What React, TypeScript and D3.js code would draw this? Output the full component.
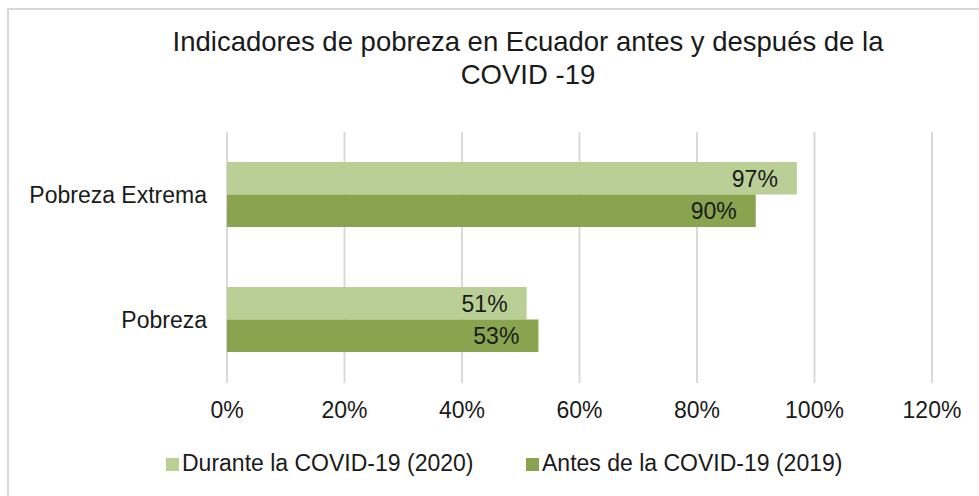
import React from "react";
import * as d3 from "d3";

const categories = ["Pobreza Extrema", "Pobreza"];
const seriesNames = ["Durante la COVID-19 (2020)", "Antes de la COVID-19 (2019)"];
const durante2020 = [97, 51];
const antes2019 = [90, 53];
const xTicks = [0, 20, 40, 60, 80, 100, 120];
const colors = ["#B9CF96", "#88A44E"];

const W = 979;
const H = 496;
const FONT = "'Liberation Sans', Arial, sans-serif";

export default function App() {
  const x = d3.scaleLinear().domain([0, 120]).range([227, 932]);
  const y = d3.scaleBand<string>().domain(categories).range([132, 382]).paddingInner(0.48).paddingOuter(0.24);
  const inner = d3.scaleBand<number>().domain([0, 1]).range([0, y.bandwidth()]).padding(0);
  const series = [durante2020, antes2019];

  return (
    <svg width={W} height={H} style={{ position: "absolute", left: 0, top: 0, background: "#fff" }} fontFamily={FONT}>
      <rect x={8} y={9} width={W + 10} height={H} fill="#fff" stroke="#D9D9D9" strokeWidth={2} />
      <text x={528} y={51} textAnchor="middle" fontSize={27.5} fill="#1a1a1a">
        Indicadores de pobreza en Ecuador antes y después de la
      </text>
      <text x={528} y={84} textAnchor="middle" fontSize={27.5} fill="#1a1a1a">
        COVID -19
      </text>
      {xTicks.map((t) => (
        <g key={t}>
          <line x1={x(t)} x2={x(t)} y1={132} y2={383} stroke="#D9D9D9" strokeWidth={2} />
          <text x={x(t)} y={418} textAnchor="middle" fontSize={23} fill="#1a1a1a">
            {t}%
          </text>
        </g>
      ))}
      {categories.map((c, ci) => (
        <g key={c}>
          <text x={207} y={(y(c) as number) + y.bandwidth() / 2 + 8} textAnchor="end" fontSize={23} fill="#1a1a1a">
            {c}
          </text>
          {series.map((s, si) => {
            const y0 = (y(c) as number) + (inner(si) as number);
            return (
              <g key={si}>
                <rect x={x(0)} y={y0} width={x(s[ci]) - x(0)} height={inner.bandwidth()} fill={colors[si]} />
                <text x={x(s[ci]) - 19} y={y0 + inner.bandwidth() / 2 + 8.5} textAnchor="end" fontSize={23} fill="#1a1a1a">
                  {s[ci]}%
                </text>
              </g>
            );
          })}
        </g>
      ))}
      {seriesNames.map((n, i) => {
        const lx = [166, 526][i];
        return (
          <g key={n}>
            <rect x={lx} y={458} width={13} height={13} fill={colors[i]} />
            <text x={lx + 16} y={471} fontSize={23} fill="#1a1a1a">
              {n}
            </text>
          </g>
        );
      })}
    </svg>
  );
}
